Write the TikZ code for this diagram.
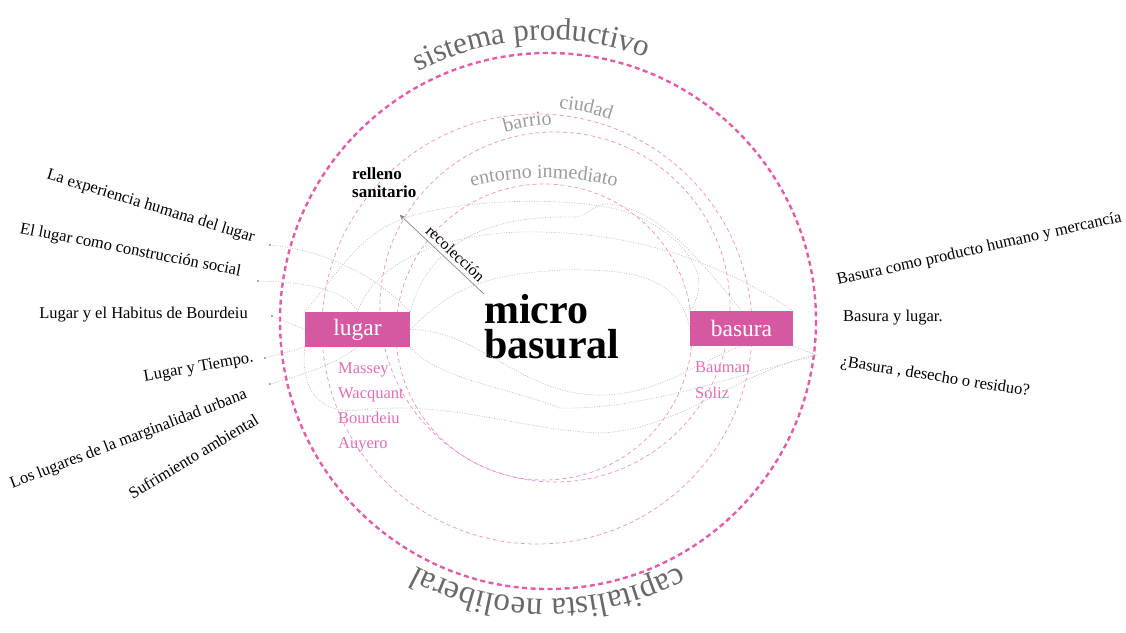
\documentclass[tikz,border=0pt]{standalone}
\usepackage{fontspec}
\setmainfont{Liberation Serif}
\usetikzlibrary{arrows, calc, positioning, decorations.text}

\definecolor{rosa}{RGB}{214,88,160}
\definecolor{rosaring}{RGB}{226,92,170}
\definecolor{rosaclaro}{RGB}{237,145,195}
\definecolor{rosanombre}{RGB}{226,110,180}
\definecolor{grisanillo}{RGB}{105,105,105}
\definecolor{grisclaro}{RGB}{155,155,155}
\definecolor{grishilo}{RGB}{188,188,188}
\definecolor{grisflecha}{RGB}{135,135,135}

\begin{document}
\begin{tikzpicture}[x=1pt,y=-1pt,>=stealth',
    box node/.style={fill=rosa,text=white,minimum width=105pt,minimum height=35pt,inner sep=0pt,font=\fontsize{23.5}{24}\selectfont},
    author node/.style={text=rosanombre,anchor=base west,inner sep=0pt,font=\fontsize{16.5}{18}\selectfont},
    topic node/.style={inner sep=0pt,font=\fontsize{16.5}{18}\selectfont},
    thread/.style={draw=grishilo,line width=0.65pt,dash pattern=on 1pt off 1.5pt},
    inner ring/.style={draw=rosaclaro,line width=0.7pt,dash pattern=on 4pt off 3pt},
    outer ring/.style={draw=rosaring,line width=2.4pt,dash pattern=on 5pt off 3.5pt}]

  \useasboundingbox (0,0) rectangle (1126,632);

  % anillos
  \coordinate (O) at (548,321);
  \coordinate (ciudad) at (537,329);
  \coordinate (barrio) at (555,307);
  \coordinate (entorno) at (544,332);
  \draw[outer ring] (O) circle[radius=268];
  \draw[inner ring] (ciudad) circle[radius=215];
  \draw[inner ring] (barrio) circle[radius=175];
  \draw[inner ring] (entorno) circle[radius=148];

  % textos sobre los anillos
  \path[decorate,decoration={text along path,text align=center,text color=grisanillo,
      text={|\fontsize{31}{31}\selectfont|sistema productivo}}]
    (O) ++(-125:281) arc[start angle=-125,end angle=-62,radius=281];
  \path[decorate,decoration={text along path,text align=center,text color=grisanillo,
      text={|\fontsize{33}{33}\selectfont|capitalista neoliberal}}]
    (O) ++(25:278) arc[start angle=25,end angle=155,radius=278];
  \path[decorate,decoration={text along path,text align=center,text color=grisclaro,
      text={|\fontsize{20}{20}\selectfont|ciudad}}]
    (ciudad) ++(-88:222) arc[start angle=-88,end angle=-67,radius=222];
  \path[decorate,decoration={text along path,text align=center,text color=grisclaro,
      text={|\fontsize{20}{20}\selectfont|barrio}}]
    (barrio) ++(-110:182) arc[start angle=-110,end angle=-87,radius=182];
  \path[decorate,decoration={text along path,text align=center,text color=grisclaro,
      text={|\fontsize{20}{20}\selectfont|entorno inmediato}}]
    (544,478) ++(-108:300) arc[start angle=-108,end angle=-72,radius=300];

  % centro
  \node[align=left,anchor=north west,inner sep=0pt,font=\bfseries\fontsize{42}{35}\selectfont] (mb) at (484,294) {micro\\basural};
  \node[align=left,anchor=north west,inner sep=0pt,font=\bfseries\fontsize{17}{18}\selectfont] (relleno) at (352,168) {relleno\\sanitario};
  \coordinate (tip) at (400,215);
  \draw[->,draw=grisflecha,line width=0.7pt] (mb.north west) -- node[pos=0.42,sloped,above,inner sep=4pt,font=\fontsize{16}{16}\selectfont] {recolección} (tip);

  % cajas
  \node[box node] (lugar) at (357.5,329.5) {lugar};
  \node[box node,minimum width=103pt] (basura) at (741.5,328.5) {basura};

  \node[author node] (massey) at (338,373) {Massey};
  \node[author node] (wacquant) at ([yshift=-25pt]massey.base west) {Wacquant};
  \node[author node] (bourdeiu) at ([yshift=-25pt]wacquant.base west) {Bourdeiu};
  \node[author node] (auyero) at ([yshift=-25pt]bourdeiu.base west) {Auyero};
  \node[author node] (bauman) at (695,372) {Bauman};
  \node[author node] (soliz) at ([yshift=-26pt]bauman.base west) {Soliz};

  % temas
  \node[topic node,anchor=base east,rotate=-17] (exp) at (253,242) {La experiencia humana del lugar};
  \node[topic node,anchor=base east,rotate=-11] (cons) at (240,276) {El lugar como construcción social};
  \node[topic node,anchor=base east] (hab) at (248,318) {Lugar y el Habitus de Bourdeiu};
  \node[topic node,anchor=base east,rotate=10] (tiempo) at (254,362) {Lugar y Tiempo.};
  \node[topic node,anchor=base east,rotate=21] (marg) at (248,398) {Los lugares de la marginalidad urbana};
  \node[topic node,anchor=base east,rotate=31] (sufr) at (260,423) {Sufrimiento ambiental};
  \node[topic node,anchor=base west,rotate=12.6] (prod) at (838,285) {Basura como producto humano y mercancía};
  \node[topic node,anchor=base west] (blugar) at (843,321) {Basura y lugar.};
  \node[topic node,anchor=base west,rotate=-9] (resid) at (840,366) {¿Basura , desecho o residuo?};

  % hilos
  \coordinate (d1) at (270,245);
  \coordinate (d2) at (258,281);
  \coordinate (d3) at (272,316);
  \coordinate (d4) at (265,358);
  \coordinate (d5) at (270,384);
  \coordinate (r1) at (817,355);
  \foreach \d in {d1,d2,d3,d4,d5}
    \fill[grisflecha] (\d) circle[radius=1.1];

  \draw[thread] (d1) .. controls (320,250) and (370,270) .. (lugar.north east);
  \draw[thread] (d2) .. controls (320,282) and (350,295) .. (lugar.north);
  \draw[thread] (d3) -- (lugar.west);
  \draw[thread] (d4) .. controls (285,352) .. (lugar.south west);
  \draw[thread] (d5) .. controls (320,370) and (340,360) .. (lugar.south);

  \draw[thread] (lugar.north east) .. controls (430,240) and (490,215) .. (577,217)
    .. controls (590,214) and (595,203) .. (610,204) .. controls (660,210) and (700,260) .. (basura.north);
  \draw[thread] (lugar.north) .. controls (380,250) and (470,230) .. (540,232)
    .. controls (620,234) and (700,250) .. (basura.north east);
  \draw[thread] (lugar.north west) .. controls (340,270) and (360,235) .. (400,220)
    .. controls (450,200) and (560,195) .. (620,210) .. controls (670,225) and (720,270) .. (basura.north west);
  \draw[thread] (lugar.east) .. controls (450,290) and (480,275) .. (560,270)
    .. controls (640,268) and (680,280) .. (basura.west);
  \draw[thread] (lugar.east) .. controls (480,330) and (520,395) .. (600,395)
    .. controls (660,395) and (700,360) .. (basura.south);
  \draw[thread] (lugar.south west) .. controls (300,390) and (320,415) .. (360,410)
    .. controls (450,400) and (520,430) .. (600,433) .. controls (680,430) and (740,370) .. (r1);
  \draw[thread] (lugar.south east) .. controls (440,380) and (500,385) .. (560,408)
    .. controls (640,410) and (720,380) .. (r1);
  \draw[thread] (basura.south east) .. controls (805,350) .. (r1);

\end{tikzpicture}
\end{document}
